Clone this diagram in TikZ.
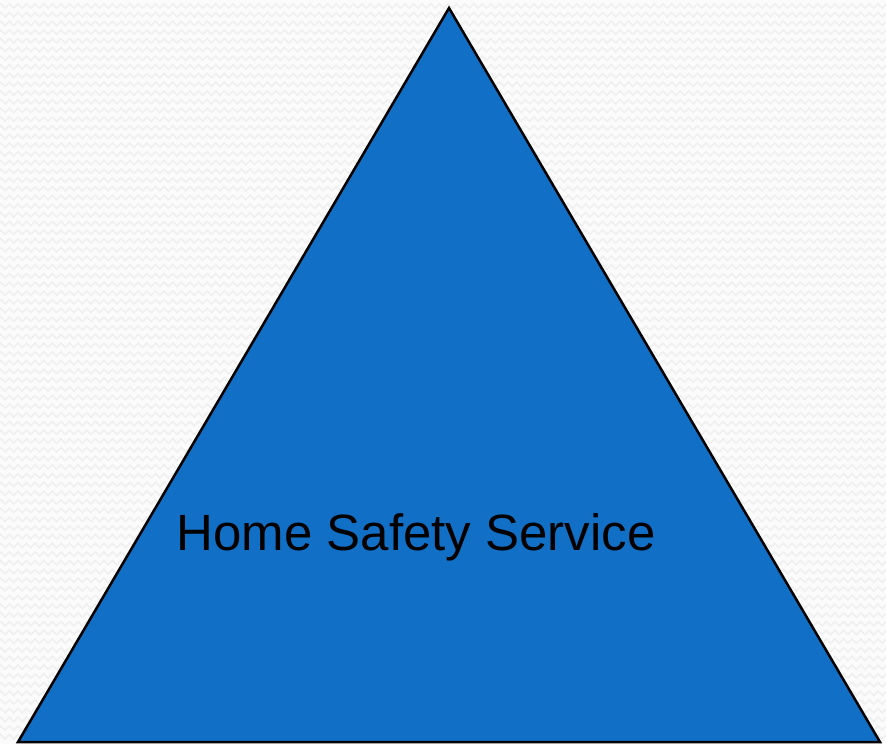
\documentclass[tikz,border=0pt]{standalone}
\usepackage{fontspec}
\setmainfont{Liberation Sans}
\usetikzlibrary{decorations.pathmorphing}
\definecolor{safetyblue}{HTML}{116FC6}
\definecolor{paper}{HTML}{FBFBFB}
\definecolor{wave}{HTML}{F0F0F0}
\tikzset{
  pyramid/.style={fill=safetyblue,draw=black,line width=2.5pt,line join=miter},
  caption/.style={font=\fontsize{51}{60}\selectfont,text=black,inner sep=0pt,anchor=base}
}
\begin{document}
\begin{tikzpicture}[x=1pt,y=-1pt]
  % page and faint background
  \fill[paper] (0,0) rectangle (886,744);
  \useasboundingbox (0,0) rectangle (886,744);
  \foreach \row in {6,14.7,...,744}
    \draw[wave,line width=1.6pt,decorate,decoration={zigzag,amplitude=2.2pt,segment length=8.6pt}]
      (-10,\row) -- (896,\row);
  % the triangle
  \coordinate (top) at (449,8);
  \coordinate (left) at (18,742);
  \coordinate (right) at (880,742);
  \draw[pyramid] (top) -- (right) -- (left) -- cycle;
  \node[caption] (service) at (416,550) {Home Safety Service};
\end{tikzpicture}
\end{document}
